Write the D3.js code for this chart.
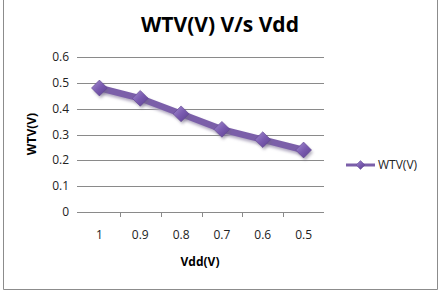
<!DOCTYPE html>
<html>
<head>
<meta charset="utf-8">
<script src="https://cdn.jsdelivr.net/npm/d3@7"></script>
<style>
  body { margin: 0; background: #fff; }
  svg { display: block; }
  text { font-family: 'Open Sans', 'Liberation Sans', sans-serif; }
</style>
</head>
<body>
<div id="chart"></div>
<script>
// chart data
const categories = ['1', '0.9', '0.8', '0.7', '0.6', '0.5'];
const wtv = [0.48, 0.44, 0.38, 0.32, 0.28, 0.24];
const yTicks = [0, 0.1, 0.2, 0.3, 0.4, 0.5, 0.6];
const seriesName = 'WTV(V)';

const width = 446, height = 294;
const margin = { top: 57, right: 122, bottom: 82, left: 79 };
const innerWidth = width - margin.left - margin.right;
const innerHeight = height - margin.top - margin.bottom;
const purple = '#7b5fa9';

const svg = d3.select('#chart').append('svg')
    .attr('width', width)
    .attr('height', height);

// outer frame (left, bottom, right sides; top is off the picture)
svg.append('path')
    .attr('d', 'M3.5,0 V289.5 H437.5 V0')
    .attr('fill', 'none')
    .attr('stroke', '#8c8c8c');

const defs = svg.append('defs');
const grad = defs.append('linearGradient')
    .attr('id', 'mk').attr('x1', 0).attr('y1', 0).attr('x2', 1).attr('y2', 1);
grad.append('stop').attr('offset', '0%').attr('stop-color', '#a58fd0');
grad.append('stop').attr('offset', '50%').attr('stop-color', '#7a5bb0');
grad.append('stop').attr('offset', '100%').attr('stop-color', '#5b3f8f');

const blur = defs.append('filter').attr('id', 'shadow')
    .attr('x', '-50%').attr('y', '-50%').attr('width', '200%').attr('height', '200%');
blur.append('feGaussianBlur').attr('stdDeviation', 1.5);

const chart = svg.append('g')
    .attr('transform', `translate(${margin.left}, ${margin.top})`);

const xScale = d3.scaleBand()
    .domain(categories)
    .range([0, innerWidth]);

const yScale = d3.scaleLinear()
    .domain([0, 0.6])
    .range([innerHeight, 0]);

// gridlines
chart.append('g')
    .selectAll('line')
    .data(yTicks)
    .enter()
    .append('line')
    .attr('x1', -2).attr('x2', innerWidth)
    .attr('y1', d => Math.round(yScale(d)) + 0.5)
    .attr('y2', d => Math.round(yScale(d)) + 0.5)
    .attr('stroke', '#8a8a8a');

// y tick labels
chart.append('g')
    .selectAll('text')
    .data(yTicks)
    .enter()
    .append('text')
    .attr('x', -10)
    .attr('y', d => yScale(d) + 4)
    .attr('text-anchor', 'end')
    .attr('font-size', 12)
    .attr('fill', '#222')
    .text(d => d === 0 ? '0' : d.toFixed(1));

// tick marks between categories
chart.append('g')
    .selectAll('line')
    .data(categories.slice(1))
    .enter()
    .append('line')
    .attr('x1', d => Math.round(xScale(d)) + 0.5)
    .attr('x2', d => Math.round(xScale(d)) + 0.5)
    .attr('y1', innerHeight).attr('y2', innerHeight + 5)
    .attr('stroke', '#8a8a8a');

// x category labels
chart.append('g')
    .selectAll('text')
    .data(categories)
    .enter()
    .append('text')
    .attr('x', d => xScale(d) + xScale.bandwidth() / 2)
    .attr('y', innerHeight + 27)
    .attr('text-anchor', 'middle')
    .attr('font-size', 12)
    .attr('fill', '#222')
    .text(d => d);

const cx = (d, i) => xScale(categories[i]) + xScale.bandwidth() / 2;
const line = d3.line()
    .x((d, i) => cx(d, i))
    .y(d => yScale(d));

const diamond = d3.symbol().type(d3.symbolDiamond2).size(160);

// line shadow + line
chart.append('path')
    .datum(wtv)
    .attr('d', line)
    .attr('transform', 'translate(1.5, 2.5)')
    .attr('fill', 'none')
    .attr('stroke', '#b0a8c0')
    .attr('stroke-width', 6.5)
    .attr('filter', 'url(#shadow)');
chart.append('path')
    .datum(wtv)
    .attr('d', line)
    .attr('fill', 'none')
    .attr('stroke', purple)
    .attr('stroke-width', 6.5);

// markers
chart.append('g')
    .selectAll('path')
    .data(wtv)
    .enter()
    .append('path')
    .attr('d', diamond)
    .attr('transform', (d, i) => `translate(${cx(d, i) + 1.5}, ${yScale(d) + 2.5})`)
    .attr('fill', '#6e6680')
    .attr('opacity', 0.5)
    .attr('filter', 'url(#shadow)');
chart.append('g')
    .selectAll('path')
    .data(wtv)
    .enter()
    .append('path')
    .attr('d', diamond)
    .attr('transform', (d, i) => `translate(${cx(d, i)}, ${yScale(d)})`)
    .attr('fill', 'url(#mk)')
    .attr('stroke', '#5f4491')
    .attr('stroke-width', 0.6);

// titles
svg.append('text')
    .attr('x', 220).attr('y', 32)
    .attr('text-anchor', 'middle')
    .attr('font-size', 21)
    .attr('font-weight', 'bold')
    .attr('fill', '#000')
    .text('WTV(V) V/s Vdd');

svg.append('text')
    .attr('transform', 'translate(36, 134) rotate(-90)')
    .attr('text-anchor', 'middle')
    .attr('font-size', 12)
    .attr('font-weight', 'bold')
    .attr('fill', '#000')
    .text('WTV(V)');

svg.append('text')
    .attr('x', 200).attr('y', 266)
    .attr('text-anchor', 'middle')
    .attr('font-size', 12)
    .attr('font-weight', 'bold')
    .attr('fill', '#000')
    .text('Vdd(V)');

// legend
const legend = svg.append('g').attr('transform', 'translate(346, 165)');
legend.append('line')
    .attr('x1', 0).attr('x2', 29)
    .attr('y1', 0).attr('y2', 0)
    .attr('stroke', purple)
    .attr('stroke-width', 3);
legend.append('path')
    .attr('d', d3.symbol().type(d3.symbolDiamond2).size(50))
    .attr('transform', 'translate(14.5, 0)')
    .attr('fill', 'url(#mk)')
    .attr('stroke', '#5f4491')
    .attr('stroke-width', 0.5);
legend.append('text')
    .attr('x', 32).attr('y', 4)
    .attr('font-size', 12)
    .attr('fill', '#222')
    .text(seriesName);
</script>
</body>
</html>
